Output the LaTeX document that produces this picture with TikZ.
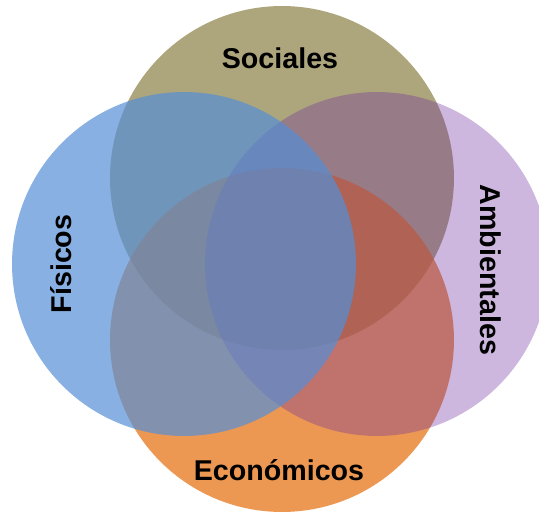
\documentclass[tikz,border=0pt]{standalone}
\usepackage{fontspec}
\setmainfont{Liberation Sans}
\usepackage{tikz}
\usetikzlibrary{positioning}
\definecolor{olivo}{HTML}{948A54}
\definecolor{naranja}{HTML}{E46C0A}
\definecolor{morado}{HTML}{7030A0}
\definecolor{azul}{HTML}{558ED5}
\tikzset{
    conjunto/.style={
      circle,
      minimum size=6.88cm,
      inner sep=0pt,
      draw=none,
    },
    etiqueta/.style={
      font=\fontsize{16.3}{19}\selectfont\bfseries,
      inner sep=0pt,
      text=black,
    },
}

\begin{document}
\begin{tikzpicture}[x=0.02cm,y=-0.02cm]

    \useasboundingbox (0,0) rectangle (539,513);

    % circulos (orden de dibujo importa)
    \node[conjunto, fill=olivo, fill opacity=0.77] (SOC) at (282,178) {};
    \node[conjunto, fill=naranja, fill opacity=0.7] (ECO) at (282,340) {};
    \node[conjunto, fill=morado, fill opacity=0.35] (AMB) at (377,264) {};
    \node[conjunto, fill=azul, fill opacity=0.7] (FIS) at (184,264) {};

    % textos
    \node[etiqueta] (tSOC) at (280,58) {Sociales};
    \node[etiqueta] (tECO) at (279,470) {Económicos};
    \node[etiqueta, rotate=90] (tFIS) at (61,264) {Físicos};
    \node[etiqueta, rotate=-90] (tAMB) at (491,270) {Ambientales};

\end{tikzpicture}
\end{document}
